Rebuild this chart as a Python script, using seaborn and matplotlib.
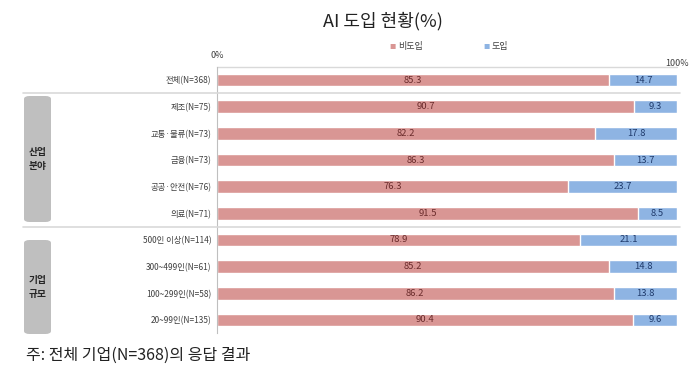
import matplotlib
matplotlib.use("Agg")
import matplotlib.pyplot as plt
import matplotlib.transforms as mtransforms
from matplotlib.patches import FancyBboxPatch
from matplotlib.lines import Line2D
import seaborn as sns
import pandas as pd

categories = ["전체(N=368)", "제조(N=75)", "교통·물류(N=73)", "금융(N=73)", "공공·안전(N=76)",
              "의료(N=71)", "500인 이상(N=114)", "300~499인(N=61)", "100~299인(N=58)", "20~99인(N=135)"]
non_adopt = [85.3, 90.7, 82.2, 86.3, 76.3, 91.5, 78.9, 85.2, 86.2, 90.4]
adopt = [14.7, 9.3, 17.8, 13.7, 23.7, 8.5, 21.1, 14.8, 13.8, 9.6]
series_names = ["비도입", "도입"]
groups = [("산업\n분야", 96, 222), ("기업\n규모", 240, 334)]

sns.set_theme(style="white")
plt.rcParams['font.family'] = ['Noto Sans CJK KR', 'DejaVu Sans']

PINK = "#D99694"
BLUE = "#8EB4E3"

W, H = 700, 376
fig = plt.figure(figsize=(7, 3.76), dpi=100)
x0, x1 = 217, 677
ytop, ybot = 66.7, 333.3
ax = fig.add_axes([x0 / W, 1 - ybot / H, (x1 - x0) / W, (ybot - ytop) / H])

df = pd.DataFrame({"cat": categories, "non": non_adopt, "adopt": adopt})
df["total"] = df["non"] + df["adopt"]

sns.barplot(data=df, y="cat", x="total", color=BLUE, orient="h", width=0.48,
            saturation=1, ax=ax, order=categories)
sns.barplot(data=df, y="cat", x="non", color=PINK, orient="h", width=0.48,
            saturation=1, ax=ax, order=categories)

for i, (n, a) in enumerate(zip(non_adopt, adopt)):
    ax.text(n / 2, i, f"{n:.1f}", ha="center", va="center", fontsize=6.8, color="#6b2c2c")
    ax.text(n + a / 2, i, f"{a:.1f}", ha="center", va="center", fontsize=6.8, color="#1f3a6b")

ax.set_xlim(0, 100)
ax.set_ylim(len(categories) - 0.5, -0.5)
ax.set_xlabel("")
ax.set_ylabel("")
ax.set_xticks([])
ax.set_yticks(range(len(categories)))
ax.set_yticklabels(categories, fontsize=6, color="#404040")
ax.tick_params(axis="y", length=0, pad=4)
ax.set_yticks([i + 0.5 for i in range(-1, len(categories))], minor=True)
ax.tick_params(axis="y", which="minor", length=3, color="#bfbfbf", width=0.8, direction="out")
for s in ["top", "right", "bottom"]:
    ax.spines[s].set_visible(False)
ax.spines["left"].set_color("#bfbfbf")
ax.spines["left"].set_linewidth(0.8)

# top reference line
ax.plot([0, 100], [-0.5, -0.5], color="#d9d9d9", lw=1.0, clip_on=False)

# group separators
tr = mtransforms.blended_transform_factory(fig.transFigure, ax.transData)
for yb in [0.5, 5.5]:
    fig.add_artist(Line2D([23 / W, 680 / W], [yb, yb], transform=tr, color="#d9d9d9", lw=1.2))

# grey group boxes
for label, yt, yb in groups:
    bx = FancyBboxPatch((24 / W, 1 - yb / H), 27 / W, (yb - yt) / H,
                        boxstyle="round,pad=0,rounding_size=0.008",
                        transform=fig.transFigure, facecolor="#bfbfbf", edgecolor="none")
    fig.add_artist(bx)
    fig.text(37.5 / W, 1 - ((yt + yb) / 2) / H, label, ha="center", va="center",
             fontsize=7, fontweight="bold", color="#262626", linespacing=1.4)

# title, axis end labels, legend
fig.text(383 / W, 1 - 21 / H, "AI 도입 현황(%)", ha="center", va="center", fontsize=13,
         fontweight="light", color="#222222")
fig.text(217 / W, 1 - 55 / H, "0%", ha="center", va="center", fontsize=6.5, color="#404040")
fig.text(677 / W, 1 - 63 / H, "100%", ha="center", va="center", fontsize=6.5, color="#404040")

for (name, col, xp) in [(series_names[0], PINK, 393), (series_names[1], BLUE, 487)]:
    fig.text(xp / W, 1 - 47 / H, "■", ha="center", va="center", fontsize=4.5, color=col)
    fig.text((xp + 5) / W, 1 - 47 / H, name, ha="left", va="center", fontsize=6.5, color="#404040")

fig.text(26 / W, 1 - 355 / H, "주: 전체 기업(N=368)의 응답 결과", ha="left", va="center",
         fontsize=11.5, color="#222222")

fig.savefig("out.png", dpi=100)
